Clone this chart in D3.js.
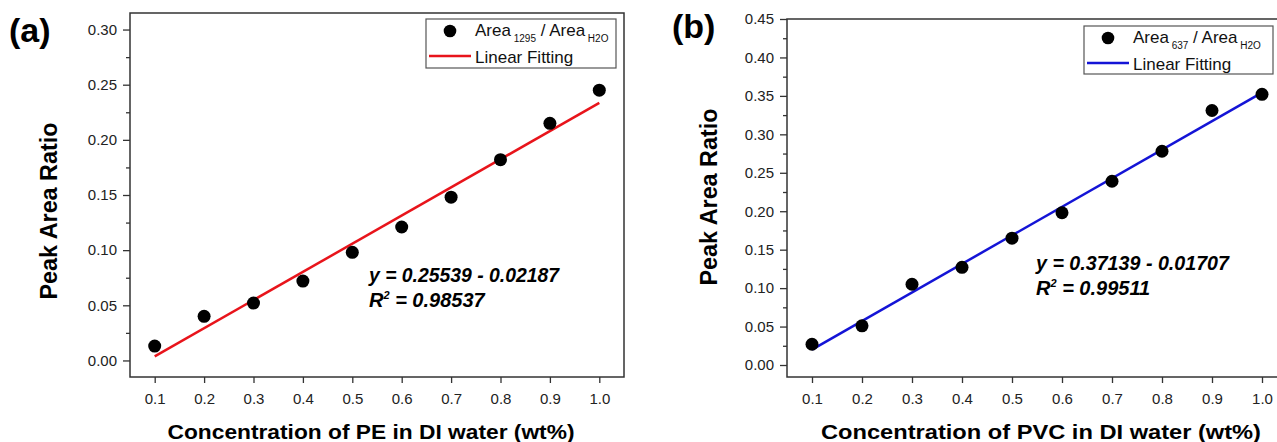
<!DOCTYPE html>
<html>
<head>
<meta charset="utf-8">
<script src="https://cdn.jsdelivr.net/npm/d3@7"></script>
<style>
  body { margin: 0; background: #fff; }
  svg text { font-family: "Liberation Sans", Arial, sans-serif; }
</style>
</head>
<body>
<div id="chart"></div>
<script>
// chart size
var chart_width  = 1277;
var chart_height = 442;

// data
var concA   = [0.1, 0.2, 0.3, 0.4, 0.5, 0.6, 0.7, 0.8, 0.9, 1.0];
var ratioA  = [0.013, 0.040, 0.052, 0.072, 0.098, 0.121, 0.148, 0.182, 0.215, 0.245];
var fitA    = [0.25539, -0.02187];   // slope, intercept
var r2A     = "0.98537";

var concB   = [0.1, 0.2, 0.3, 0.4, 0.5, 0.6, 0.7, 0.8, 0.9, 1.0];
var ratioB  = [0.027, 0.051, 0.105, 0.127, 0.165, 0.198, 0.239, 0.278, 0.331, 0.352];
var fitB    = [0.37139, -0.01707];
var r2B     = "0.99511";

var xTicks      = [0.1, 0.2, 0.3, 0.4, 0.5, 0.6, 0.7, 0.8, 0.9, 1.0];
var yTicksA     = [0, 0.05, 0.10, 0.15, 0.20, 0.25, 0.30];
var yMinorA     = [0.025, 0.075, 0.125, 0.175, 0.225, 0.275];
var yTicksB     = [0, 0.05, 0.10, 0.15, 0.20, 0.25, 0.30, 0.35, 0.40, 0.45];
var yMinorB     = [0.025, 0.075, 0.125, 0.175, 0.225, 0.275, 0.325, 0.375, 0.425];

var svg = d3.select("#chart")
    .append("svg")
    .attr("width", chart_width)
    .attr("height", chart_height);

function drawPanel(p) {
    var x = d3.scaleLinear().domain([0.05, 1.05]).range([p.left, p.right]);
    var y = d3.scaleLinear().domain(p.yDomain).range([377, p.top]);
    var g = svg.append("g");

    // frame
    g.append("rect")
        .attr("x", p.left).attr("y", p.top)
        .attr("width", p.right - p.left).attr("height", 377 - p.top)
        .attr("fill", "none").attr("stroke", "#333").attr("stroke-width", 1.5);

    // y axis, major + minor
    var ya = g.append("g").attr("transform", "translate(" + p.left + ",0)")
        .call(d3.axisLeft(y).tickValues(p.yTicks).tickSize(7).tickSizeOuter(0)
            .tickFormat(d3.format(".2f")));
    var ym = g.append("g").attr("transform", "translate(" + p.left + ",0)")
        .call(d3.axisLeft(y).tickValues(p.yMinor).tickSize(4).tickSizeOuter(0)
            .tickFormat(""));
    // x axis
    var xa = g.append("g").attr("transform", "translate(0,377)")
        .call(d3.axisBottom(x).tickValues(xTicks).tickSize(6).tickSizeOuter(0)
            .tickFormat(d3.format(".1f")));

    [ya, ym, xa].forEach(function(a){
        a.select(".domain").remove();
        a.selectAll("line").attr("stroke", "#333").attr("stroke-width", 1.3);
        a.selectAll("text").attr("fill", "#222").style("font-size", "15px");
    });
    ya.selectAll("text").attr("x", -13);
    xa.selectAll("text").attr("y", 16);

    // fit line
    var line = d3.line()
        .x(function(d){ return x(d); })
        .y(function(d){ return y(p.fit[0] * d + p.fit[1]); });
    g.append("path")
        .datum([p.conc[0], p.conc[p.conc.length - 1]])
        .attr("d", line)
        .attr("fill", "none")
        .attr("stroke", p.color)
        .attr("stroke-width", 2.5);

    // points
    g.selectAll("circle.pt")
        .data(p.conc)
        .enter()
        .append("circle")
        .attr("class", "pt")
        .attr("cx", function(d){ return x(d); })
        .attr("cy", function(d, i){ return y(p.ratio[i]); })
        .attr("r", 6.5)
        .attr("fill", "#000");

    // panel label
    g.append("text")
        .attr("x", p.labelX).attr("y", p.labelY)
        .style("font-size", "34px").style("font-weight", "bold")
        .text(p.label);

    // axis titles
    g.append("text")
        .attr("transform", "translate(" + p.yTitleX + "," + p.yTitleY + ") rotate(-90)")
        .attr("text-anchor", "middle")
        .attr("textLength", 177).attr("lengthAdjust", "spacingAndGlyphs")
        .style("font-size", "23px").style("font-weight", "bold")
        .text("Peak Area Ratio");
    g.append("text")
        .attr("x", p.xTitleX).attr("y", 439)
        .attr("text-anchor", "middle")
        .attr("textLength", p.xTitleLen).attr("lengthAdjust", "spacingAndGlyphs")
        .style("font-size", "21px").style("font-weight", "bold")
        .text(p.xTitle);

    // equation
    g.append("text")
        .attr("x", p.eqX).attr("y", p.eqY)
        .attr("textLength", p.eqLen).attr("lengthAdjust", "spacingAndGlyphs")
        .style("font-size", "20px").style("font-weight", "bold").style("font-style", "italic")
        .text("y = " + p.fit[0].toFixed(5) + " - " + Math.abs(p.fit[1]).toFixed(5));
    var r2 = g.append("text")
        .attr("x", p.eqX).attr("y", p.eqY + 25)
        .style("font-size", "20px").style("font-weight", "bold").style("font-style", "italic");
    r2.append("tspan").text("R");
    r2.append("tspan").attr("dy", -8).style("font-size", "11px").text("2");
    r2.append("tspan").attr("dy", 8).text(" = " + p.r2);

    // legend
    var L = p.legend;
    g.append("rect")
        .attr("x", L.x).attr("y", L.y).attr("width", L.w).attr("height", L.h)
        .attr("fill", "#fff").attr("stroke", "#555").attr("stroke-width", 1.2);
    g.append("circle")
        .attr("cx", L.x + 24).attr("cy", L.y + 12).attr("r", 6.3).attr("fill", "#000");
    g.append("line")
        .attr("x1", L.x + 3).attr("x2", L.x + 45)
        .attr("y1", L.y + 37).attr("y2", L.y + 37)
        .attr("stroke", p.color).attr("stroke-width", 2.5);
    var t1 = g.append("text").attr("x", L.x + 49).attr("y", L.y + 17)
        .style("font-size", "17px").attr("fill", "#111");
    t1.append("tspan").text("Area");
    t1.append("tspan").attr("dy", 6).style("font-size", "10px").text(" " + p.band);
    t1.append("tspan").attr("dy", -6).text(" / Area");
    t1.append("tspan").attr("dy", 6).style("font-size", "10px").text(" H2O");
    g.append("text").attr("x", L.x + 49).attr("y", L.y + 44)
        .style("font-size", "17px").attr("fill", "#111")
        .text("Linear Fitting");
}

drawPanel({
    label: "(a)", labelX: 9, labelY: 42,
    left: 130, right: 624, top: 13,
    yDomain: [-0.015, 0.315], yTicks: yTicksA, yMinor: yMinorA,
    conc: concA, ratio: ratioA, fit: fitA, r2: r2A,
    color: "#e8141b",
    yTitleX: 57, yTitleY: 211,
    xTitleX: 371, xTitleLen: 407, xTitle: "Concentration of PE in DI water (wt%)",
    eqX: 369, eqY: 282, eqLen: 190,
    band: "1295",
    legend: { x: 426, y: 19, w: 190, h: 49 }
});

drawPanel({
    label: "(b)", labelX: 672, labelY: 38,
    left: 787, right: 1287, top: 19,
    yDomain: [-0.0156, 0.45], yTicks: yTicksB, yMinor: yMinorB,
    conc: concB, ratio: ratioB, fit: fitB, r2: r2B,
    color: "#1414d6",
    yTitleX: 717, yTitleY: 197,
    xTitleX: 1041, xTitleLen: 440, xTitle: "Concentration of PVC in DI water (wt%)",
    eqX: 1036, eqY: 270, eqLen: 193,
    band: "637",
    legend: { x: 1084, y: 26, w: 189, h: 48 }
});
</script>
</body>
</html>
